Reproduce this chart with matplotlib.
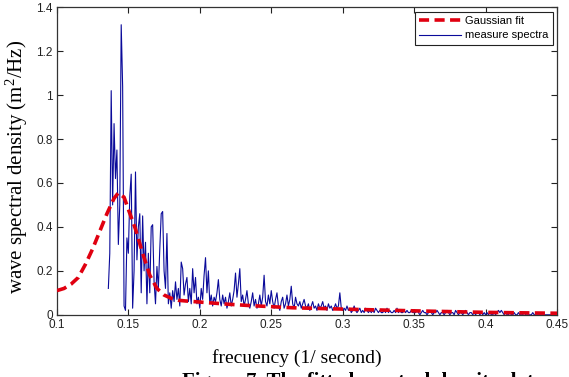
import matplotlib
matplotlib.use('Agg')
import matplotlib.pyplot as plt
import numpy as np

plt.rcParams['font.family'] = 'Liberation Sans'
plt.rcParams['mathtext.fontset'] = 'custom'
plt.rcParams['mathtext.rm'] = 'Liberation Serif'
plt.rcParams['mathtext.it'] = 'Liberation Serif:italic'

# gaussian fit curve
fit_freq = [0.100, 0.105, 0.110, 0.115, 0.120, 0.125, 0.130, 0.135, 0.140, 0.143,
            0.147, 0.150, 0.155, 0.160, 0.165, 0.170, 0.175, 0.180, 0.185, 0.190,
            0.200, 0.220, 0.235, 0.250, 0.265, 0.300, 0.350, 0.400, 0.450]
fit_val = [0.11, 0.12, 0.14, 0.17, 0.23, 0.30, 0.38, 0.46, 0.53, 0.555,
           0.535, 0.48, 0.39, 0.28, 0.18, 0.12, 0.09, 0.075, 0.066, 0.063,
           0.058, 0.048, 0.042, 0.037, 0.032, 0.026, 0.018, 0.011, 0.007]

# measured spectrum, sampled every 0.001 from 0.136
spec_start = 0.136
spec_step = 0.001
spec_val = [
    0.12, 0.28, 1.02, 0.50, 0.87, 0.62, 0.75, 0.32, 0.50, 1.32,   # 0.136
    1.04, 0.04, 0.02, 0.35, 0.28, 0.54, 0.64, 0.03, 0.20, 0.65,   # 0.146
    0.25, 0.40, 0.46, 0.10, 0.45, 0.20, 0.33, 0.05, 0.28, 0.10,   # 0.156
    0.40, 0.41, 0.15, 0.05, 0.22, 0.12, 0.30, 0.46, 0.47, 0.20,   # 0.166
    0.12, 0.37, 0.05, 0.10, 0.03, 0.11, 0.06, 0.15, 0.07, 0.12,   # 0.176
    0.04, 0.24, 0.21, 0.09, 0.14, 0.17, 0.06, 0.12, 0.05, 0.21,   # 0.186
    0.10, 0.17, 0.05, 0.08, 0.03, 0.12, 0.07, 0.18, 0.26, 0.10,   # 0.196
    0.20, 0.05, 0.09, 0.04, 0.08, 0.06, 0.10, 0.16, 0.07, 0.04,   # 0.206
    0.09, 0.05, 0.08, 0.03, 0.06, 0.10, 0.04, 0.07, 0.11, 0.19,   # 0.216
    0.08, 0.14, 0.21, 0.06, 0.09, 0.04, 0.07, 0.11, 0.05, 0.03,   # 0.226
    0.06, 0.10, 0.04, 0.07, 0.03, 0.05, 0.09, 0.04, 0.08, 0.18,   # 0.236
    0.06, 0.04, 0.09, 0.05, 0.11, 0.06, 0.03, 0.07, 0.10, 0.04,   # 0.246
    0.02, 0.06, 0.08, 0.03, 0.05, 0.09, 0.04, 0.07, 0.13, 0.05,   # 0.256
    0.03, 0.08, 0.05, 0.04, 0.06, 0.03, 0.05, 0.07, 0.04, 0.03,   # 0.266
    0.05, 0.02, 0.04, 0.06, 0.03, 0.04, 0.02, 0.05, 0.03, 0.04,   # 0.276
    0.06, 0.03, 0.04, 0.02, 0.05, 0.03, 0.04, 0.02, 0.03, 0.05,   # 0.286
    0.03, 0.04, 0.10, 0.03, 0.02, 0.03, 0.02, 0.04, 0.02, 0.03,   # 0.296
    0.01, 0.02, 0.04, 0.02, 0.01, 0.02, 0.03, 0.01, 0.02, 0.01,   # 0.306
    0.03, 0.02, 0.01, 0.02, 0.01, 0.02, 0.01, 0.03, 0.02, 0.01,   # 0.316
    0.02, 0.01, 0.01, 0.02, 0.01, 0.03, 0.01, 0.02, 0.01, 0.01,   # 0.326
    0.02, 0.01, 0.03, 0.01, 0.02, 0.01, 0.01, 0.02, 0.01, 0.02,   # 0.336
    0.01, 0.01, 0.02, 0.01, 0.01, 0.01, 0.02, 0.01, 0.00, 0.01,   # 0.346
    0.02, 0.01, 0.01, 0.00, 0.01, 0.02, 0.01, 0.00, 0.01, 0.01,   # 0.356
    0.02, 0.01, 0.00, 0.01, 0.01, 0.00, 0.01, 0.02, 0.01, 0.00,   # 0.366
    0.01, 0.01, 0.00, 0.02, 0.01, 0.00, 0.01, 0.01, 0.00, 0.01,   # 0.376
    0.02, 0.01, 0.00, 0.01, 0.01, 0.00, 0.01, 0.00, 0.01, 0.01,   # 0.386
    0.00, 0.01, 0.00, 0.01, 0.00, 0.01, 0.00, 0.01, 0.00, 0.00,   # 0.396
    0.01, 0.00, 0.01, 0.02, 0.01, 0.02, 0.01, 0.00, 0.01, 0.00,   # 0.406
    0.00, 0.01, 0.00, 0.00, 0.01, 0.00, 0.00, 0.01, 0.00, 0.00,   # 0.416
    0.00, 0.01, 0.00, 0.00, 0.00, 0.00, 0.00, 0.01, 0.00, 0.00,   # 0.426
    0.00, 0.00, 0.00, 0.00, 0.00, 0.00, 0.00, 0.00, 0.00, 0.00,   # 0.436
    0.00, 0.00, 0.00, 0.00, 0.00,                                 # 0.446
]
spec_freq = spec_start + spec_step * np.arange(len(spec_val))

xticks = [0.1, 0.15, 0.2, 0.25, 0.3, 0.35, 0.4, 0.45]
xtick_labels = ['0.1', '0.15', '0.2', '0.25', '0.3', '0.35', '0.4', '0.45']
yticks = [0, 0.2, 0.4, 0.6, 0.8, 1.0, 1.2, 1.4]
ytick_labels = ['0', '0.2', '0.4', '0.6', '0.8', '1', '1.2', '1.4']

fig = plt.figure(figsize=(5.69, 3.77), dpi=100)
ax = fig.add_axes([0.100, 0.165, 0.879, 0.816])

ax.plot(fit_freq, fit_val, color='#e00010', linestyle=(0, (2.8, 1.5)), linewidth=2.6,
        label='Gaussian fit', zorder=3)
ax.plot(spec_freq, spec_val, color='#0a0a9a', linewidth=0.8, label='measure spectra', zorder=2)

ax.set_xlim(0.1, 0.45)
ax.set_ylim(0, 1.4)
ax.set_xticks(xticks)
ax.set_xticklabels(xtick_labels)
ax.set_yticks(yticks)
ax.set_yticklabels(ytick_labels)
ax.tick_params(direction='in', top=True, right=True, length=4, width=0.8,
               labelsize=8.5, colors='#222222', pad=3)
for s in ax.spines.values():
    s.set_color('#333333')
    s.set_linewidth(0.9)

ax.set_xlabel('frecuency (1/ second)', family='Liberation Serif', fontsize=14)
ax.xaxis.set_label_coords(0.48, -0.11)
ax.set_ylabel(r'wave spectral density (m$^{2}$/Hz)', family='Liberation Serif', fontsize=15)
ax.yaxis.set_label_coords(-0.054, 0.48)

leg = ax.legend(loc='upper right', fontsize=8, fancybox=False, framealpha=1,
                edgecolor='#222222', borderaxespad=0.4, handlelength=3.8,
                handletextpad=0.3, borderpad=0.4, labelspacing=0.4)
leg.get_frame().set_linewidth(0.8)

fig.text(0.32, 0.012, 'Figure 7. The fitted spectral density data', family='Liberation Serif',
         fontsize=15, fontweight='bold', va='top', ha='left')

fig.savefig('out.png', dpi=100)
